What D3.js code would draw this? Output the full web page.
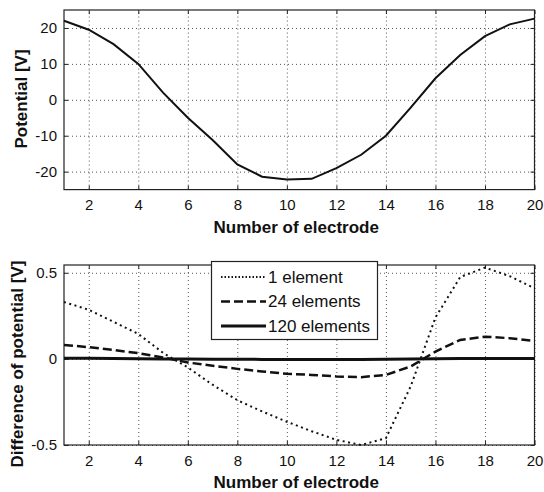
<!DOCTYPE html>
<html>
<head>
    <meta charset="utf-8">
    <style>
        body {
            margin: 0;
            background: #fff;
        }

        svg text {
            font-family: "Liberation Sans", Arial, sans-serif;
            fill: #111;
        }

        .axis text {
            font-size: 15px;
        }

        .axis path {
            display: none;
        }

        .axis line {
            stroke: #222;
        }

        .grid line {
            stroke: #555;
            stroke-width: 1;
            stroke-dasharray: 1, 3;
        }

        .grid path {
            display: none;
        }

        .title {
            font-size: 17px;
            font-weight: bold;
        }

        .legend text {
            font-size: 17px;
        }
    </style>
    <script src="https://d3js.org/d3.v7.min.js"></script>
</head>
<body>
    <svg width="544" height="492"></svg>
    <script>

    // electrode numbers
    var electrodes = [1, 2, 3, 4, 5, 6, 7, 8, 9, 10, 11, 12, 13, 14, 15, 16, 17, 18, 19, 20];

    // top panel: potential [V]
    var potential = [22, 19.5, 15.5, 10, 2, -5, -11.2, -18, -21.4, -22.2,
                     -22, -19, -15.3, -10, -2.2, 6, 12.5, 17.7, 21, 22.6];

    // bottom panel: difference of potential [V]
    var diff1 = [0.33, 0.285, 0.215, 0.145, 0.035, -0.05, -0.15, -0.24, -0.305, -0.365,
                 -0.42, -0.47, -0.5, -0.46, -0.16, 0.24, 0.475, 0.53, 0.48, 0.41];
    var diff24 = [0.081, 0.068, 0.052, 0.033, 0.008, -0.021, -0.04, -0.058, -0.073, -0.087,
                  -0.093, -0.102, -0.106, -0.093, -0.044, 0.042, 0.11, 0.129, 0.12, 0.104];
    var diff120 = [0.003, 0.003, 0.002, 0.001, 0, -0.001, -0.002, -0.002, -0.003, -0.003,
                   -0.003, -0.003, -0.003, -0.002, -0.001, 0.001, 0.002, 0.002, 0.002, 0.002];

    var xTicks = [2, 4, 6, 8, 10, 12, 14, 16, 18, 20];
    var topYTicks = [-20, -10, 0, 10, 20];
    var bottomYTicks = [-0.5, 0, 0.5];
    var legendLabels = ["1 element", "24 elements", "120 elements"];

    var svg = d3.select("svg");

    // plain hyphen minus, like the original figure
    function plain(d) { return String(d); }

    function panel(box, yDomain, yTicks, yTitle, yTitlePos) {
        var x = d3.scaleLinear().domain([1, 20]).range([box.left, box.right]);
        var y = d3.scaleLinear().domain(yDomain).range([box.bottom, box.top]);
        var w = box.right - box.left,
            h = box.bottom - box.top;

        var g = svg.append("g");

        // dotted grid
        g.append("g")
         .attr("class", "grid")
         .attr("transform", "translate(0," + box.bottom + ")")
         .call(d3.axisBottom(x).tickValues(xTicks).tickSize(-h).tickFormat(""));
        g.append("g")
         .attr("class", "grid")
         .attr("transform", "translate(" + box.left + ",0)")
         .call(d3.axisLeft(y).tickValues(yTicks).tickSize(-w).tickFormat(""));

        // axes with inward ticks
        g.append("g")
         .attr("class", "axis")
         .attr("transform", "translate(0," + box.bottom + ")")
         .call(d3.axisBottom(x).tickValues(xTicks).tickSize(-4).tickPadding(10).tickFormat(plain));
        g.append("g")
         .attr("class", "axis")
         .attr("transform", "translate(0," + box.top + ")")
         .call(d3.axisTop(x).tickValues(xTicks).tickSize(-4).tickFormat(""));
        g.append("g")
         .attr("class", "axis")
         .attr("transform", "translate(" + box.left + ",0)")
         .call(d3.axisLeft(y).tickValues(yTicks).tickSize(-4).tickPadding(7).tickFormat(plain));
        g.append("g")
         .attr("class", "axis")
         .attr("transform", "translate(" + box.right + ",0)")
         .call(d3.axisRight(y).tickValues(yTicks).tickSize(-4).tickFormat(""));

        g.append("rect")
         .attr("x", box.left)
         .attr("y", box.top)
         .attr("width", w)
         .attr("height", h)
         .attr("fill", "none")
         .attr("stroke", "#222")
         .attr("stroke-width", 1.2);

        g.append("text")
         .attr("class", "title")
         .attr("text-anchor", "middle")
         .attr("x", (box.left + box.right) / 2 - 3)
         .attr("y", box.bottom + 43)
         .text("Number of electrode");

        g.append("text")
         .attr("class", "title")
         .attr("text-anchor", "middle")
         .attr("transform", "translate(" + yTitlePos[0] + "," + yTitlePos[1] + ") rotate(-90)")
         .text(yTitle);

        return { g: g, x: x, y: y };
    }

    function addLine(p, values, dash, width) {
        var line = d3.line()
                     .x(function(d, i) { return p.x(electrodes[i]); })
                     .y(function(d) { return p.y(d); });
        p.g.append("path")
           .datum(values)
           .attr("d", line)
           .attr("fill", "none")
           .attr("stroke", "#111")
           .attr("stroke-width", width)
           .attr("stroke-dasharray", dash);
    }

    // top chart
    var topPanel = panel({ left: 64, right: 534.5, top: 10, bottom: 189.6 },
                         [-25, 25], topYTicks, "Potential [V]", [27, 99]);
    addLine(topPanel, potential, null, 2);

    // bottom chart
    var botPanel = panel({ left: 64, right: 534.5, top: 265, bottom: 445 },
                         [-0.5, 0.545], bottomYTicks, "Difference of potential [V]", [23, 364]);

    var styles = [
        { dash: "2,3.5", width: 2 },
        { dash: "9,4", width: 2.5 },
        { dash: null, width: 3 }
    ];
    addLine(botPanel, diff1, styles[0].dash, styles[0].width);
    addLine(botPanel, diff24, styles[1].dash, styles[1].width);
    addLine(botPanel, diff120, styles[2].dash, styles[2].width);

    // legend
    var legend = svg.append("g").attr("class", "legend");
    legend.append("rect")
          .attr("x", 211.5)
          .attr("y", 261.5)
          .attr("width", 166)
          .attr("height", 78)
          .attr("fill", "#fff")
          .attr("stroke", "#222")
          .attr("stroke-width", 1.2);

    var item = legend.selectAll(".item")
                     .data(legendLabels)
                     .enter().append("g")
                     .attr("class", "item")
                     .attr("transform", function(d, i) { return "translate(0," + (277 + i * 24.5) + ")"; });

    item.append("line")
        .attr("x1", 221)
        .attr("x2", 266)
        .attr("stroke", "#111")
        .attr("stroke-width", function(d, i) { return styles[i].width; })
        .attr("stroke-dasharray", function(d, i) { return i === 0 ? "1.5,2" : styles[i].dash; });

    item.append("text")
        .attr("x", 268)
        .attr("dy", "0.35em")
        .text(function(d) { return d; });

    </script>
</body>
</html>
